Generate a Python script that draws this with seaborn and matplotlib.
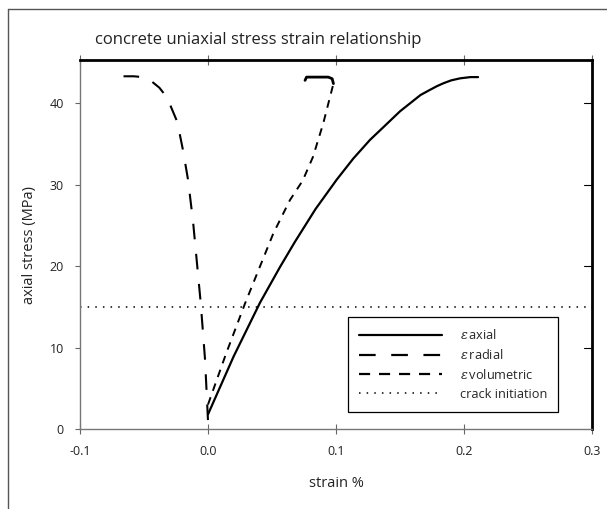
import matplotlib
matplotlib.use("Agg")
import matplotlib.pyplot as plt
import seaborn as sns
import numpy as np
import pandas as pd
from matplotlib.lines import Line2D

# ---- data ----
axial_strain = [0.0, 0.02, 0.0406, 0.0563, 0.068, 0.084, 0.1005, 0.1135, 0.1266, 0.138, 0.15, 0.158,
                0.166, 0.173, 0.179, 0.184, 0.19, 0.197, 0.205, 0.211]
axial_stress = [1.8, 8.9, 15.5, 19.9, 23.0, 27.0, 30.6, 33.2, 35.5, 37.2, 39.0, 40.0,
                41.0, 41.6, 42.1, 42.45, 42.8, 43.05, 43.2, 43.2]

radial_strain = [-0.066, -0.058, -0.051, -0.045, -0.038, -0.032, -0.024, -0.0195, -0.0156,
                 -0.0117, -0.0057, -0.0023, 0.0]
radial_stress = [43.3, 43.3, 43.2, 42.8, 41.9, 40.7, 37.7, 34.2, 30.6,
                 25.5, 15.5, 8.5, 1.0]

vol_strain = [0.0, 0.014, 0.0289, 0.051, 0.064, 0.074, 0.082, 0.090, 0.098]
vol_stress = [3.0, 9.2, 15.4, 24.0, 28.1, 30.5, 33.4, 37.5, 42.4]
vol_peak_strain = [0.098, 0.097, 0.094, 0.085, 0.077, 0.0758]
vol_peak_stress = [42.4, 43.0, 43.2, 43.2, 43.2, 42.8]

crack_stress = 15
x_ticks = [-0.1, 0.0, 0.1, 0.2, 0.3]
y_ticks = [0, 10, 20, 30, 40]
labels = [r"$\varepsilon\,$axial", r"$\varepsilon\,$radial", r"$\varepsilon\,$volumetric", "crack initiation"]

# ---- style ----
sns.set_theme(style="white")
plt.rcParams["font.family"] = ["Open Sans", "DejaVu Sans"]
plt.rcParams["mathtext.fontset"] = "custom"
plt.rcParams["mathtext.it"] = "DejaVu Serif:italic"
plt.rcParams["mathtext.rm"] = "DejaVu Serif"

fig = plt.figure(figsize=(6.07, 5.09), dpi=100)
ax = fig.add_axes([80 / 607, 80 / 509, 512 / 607, 369 / 509])

df_ax = pd.DataFrame({"strain": axial_strain, "stress": axial_stress})
df_rad = pd.DataFrame({"strain": radial_strain, "stress": radial_stress})
df_vol = pd.DataFrame({"strain": vol_strain, "stress": vol_stress})
df_volp = pd.DataFrame({"strain": vol_peak_strain, "stress": vol_peak_stress})

sns.lineplot(data=df_ax, x="strain", y="stress", sort=False, estimator=None, ax=ax,
             color="black", lw=1.6)
sns.lineplot(data=df_rad, x="strain", y="stress", sort=False, estimator=None, ax=ax,
             color="black", lw=1.5, linestyle=(0, (7.5, 7)))
sns.lineplot(data=df_vol, x="strain", y="stress", sort=False, estimator=None, ax=ax,
             color="black", lw=1.4, linestyle=(0, (4, 3.5)))
sns.lineplot(data=df_volp, x="strain", y="stress", sort=False, estimator=None, ax=ax,
             color="black", lw=2.0)
ax.axhline(crack_stress, color="black", lw=1.1, linestyle=(0, (1, 4)))

ax.set_xlim(-0.1, 0.3)
ax.set_ylim(0, 45.3)
ax.set_xticks(x_ticks)
ax.set_xticklabels([f"{v:.1f}" for v in x_ticks])
ax.set_yticks(y_ticks)
ax.set_xlabel("strain %", fontsize=10.5, labelpad=13, color="#222222")
ax.set_ylabel("axial stress (MPa)", fontsize=10.5, labelpad=9, color="#222222")

for s in ["left", "bottom"]:
    ax.spines[s].set_color("#777777")
    ax.spines[s].set_linewidth(1.0)
for s in ["top", "right"]:
    ax.spines[s].set_color("black")
    ax.spines[s].set_linewidth(2.0)

ax.tick_params(axis="x", which="major", bottom=True, top=True, direction="inout",
               length=6.5, width=0.8, color="#666666", labelsize=9, labelcolor="#222222", pad=8)
ax.tick_params(axis="y", which="major", left=True, right=False, direction="out",
               length=3.6, width=0.8, color="#666666", labelsize=9, labelcolor="#222222", pad=8)
# inward ticks on right spine
for yv in y_ticks[1:]:
    ax.plot([0.985, 1.0], [yv, yv], transform=ax.get_yaxis_transform(), color="black",
            lw=0.8, clip_on=False)

handles = [
    Line2D([], [], color="black", lw=1.6),
    Line2D([], [], color="black", lw=1.6, linestyle=(0, (7.5, 7))),
    Line2D([], [], color="black", lw=1.6, linestyle=(0, (5, 4))),
    Line2D([], [], color="black", lw=1.1, linestyle=(0, (1, 4))),
]
leg = ax.legend(handles, labels, loc="lower left", bbox_to_anchor=(0.523, 0.046),
                fontsize=9.2, frameon=True, fancybox=False, framealpha=1, edgecolor="black",
                handlelength=6.5, handletextpad=1.35, labelspacing=0.45, borderpad=0.9,
                borderaxespad=0)
leg.get_frame().set_linewidth(0.9)

fig.text(95 / 607, 1 - 40 / 509, "concrete uniaxial stress strain relationship",
         fontsize=12, va="center", ha="left", color="#222222")

# outer frame (left and top edges)
fig.add_artist(Line2D([8 / 607, 8 / 607], [0, 1 - 9 / 509], transform=fig.transFigure,
                      color="#555555", lw=1.0))
fig.add_artist(Line2D([8 / 607, 1], [1 - 9 / 509, 1 - 9 / 509], transform=fig.transFigure,
                      color="#555555", lw=1.0))

fig.savefig("out.png", dpi=100)
